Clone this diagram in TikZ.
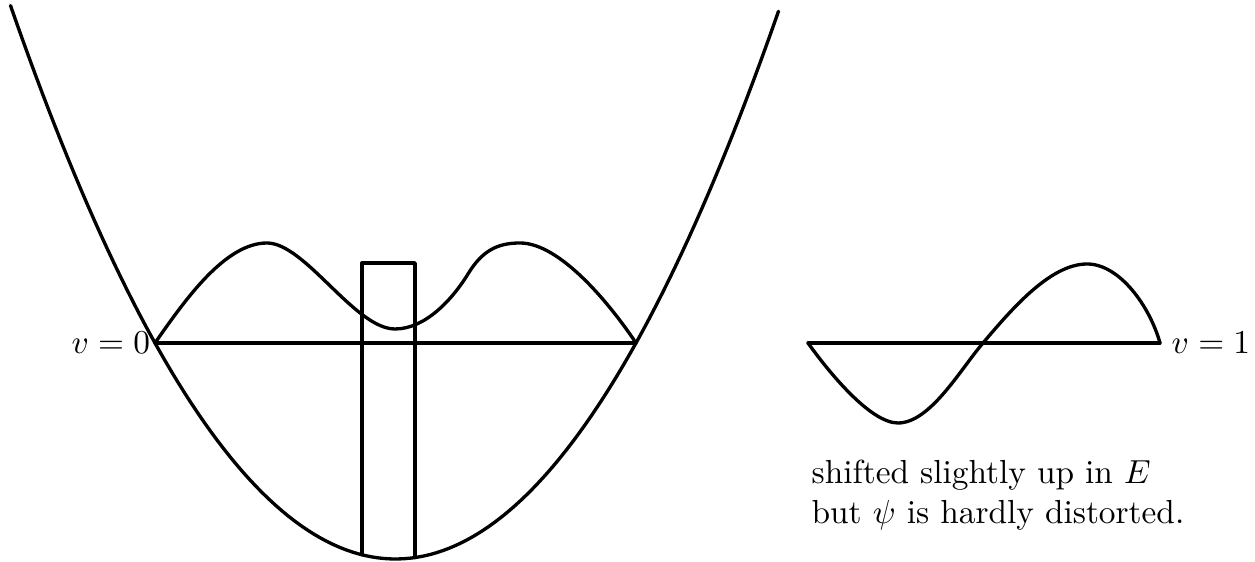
\documentclass[tikz,border=0pt]{standalone}
\usetikzlibrary{positioning}
\begin{document}
\begin{tikzpicture}[x=0.3pt, y=0.3pt, line width=1pt, line cap=round, line join=round]
		\useasboundingbox (0,0) rectangle (1255,562);
		%Points du puits et des niveaux
		\coordinate (G0) at (155,219);
		\coordinate (D0) at (636,219);
		\coordinate (RbasG) at (362,7.2);
		\coordinate (RhautG) at (362,299);
		\coordinate (RhautD) at (415,299);
		\coordinate (RbasD) at (415,4.4);
		\coordinate (G1) at (808,219);
		\coordinate (D1) at (1160,219);
		
		%Puits parabolique
		\draw plot[domain=-385:383, samples=120] ({395.5+\x}, {3+(\x/16.365)*(\x/16.365)});
		
		%Barrière au centre
		\draw (RbasG) -- (RhautG) -- (RhautD) -- (RbasD);
		
		%Niveau v=0 et sa fonction d'onde
		\draw (G0) -- (D0);
		\node[left=0pt of G0, inner sep=1pt] (L0) {$v=0$};
		\draw (G0) .. controls (185,262) and (225,319) .. (267,319)
			.. controls (305,319) and (355,233) .. (395,233)
			.. controls (425,233) and (452,262) .. (468,288)
			.. controls (482,311) and (497,319) .. (520,319)
			.. controls (560,319) and (610,258) .. (D0);
		
		%Niveau v=1 et sa fonction d'onde
		\draw (G1) -- (D1);
		\node[right=2pt of D1, inner sep=1pt] (L1) {$v=1$};
		\draw (G1) .. controls (828,191) and (870,139) .. (898,139)
			.. controls (930,139) and (960,192) .. (983,219)
			.. controls (1011,252) and (1050,298) .. (1087,298)
			.. controls (1120,298) and (1150,255) .. (D1);
		
		%Commentaire
		\node[anchor=north west, inner sep=0pt, align=left] (Com) at (810,104) {shifted slightly up in $E$\\ but $\psi$ is hardly distorted.};
	\end{tikzpicture}
\end{document}
